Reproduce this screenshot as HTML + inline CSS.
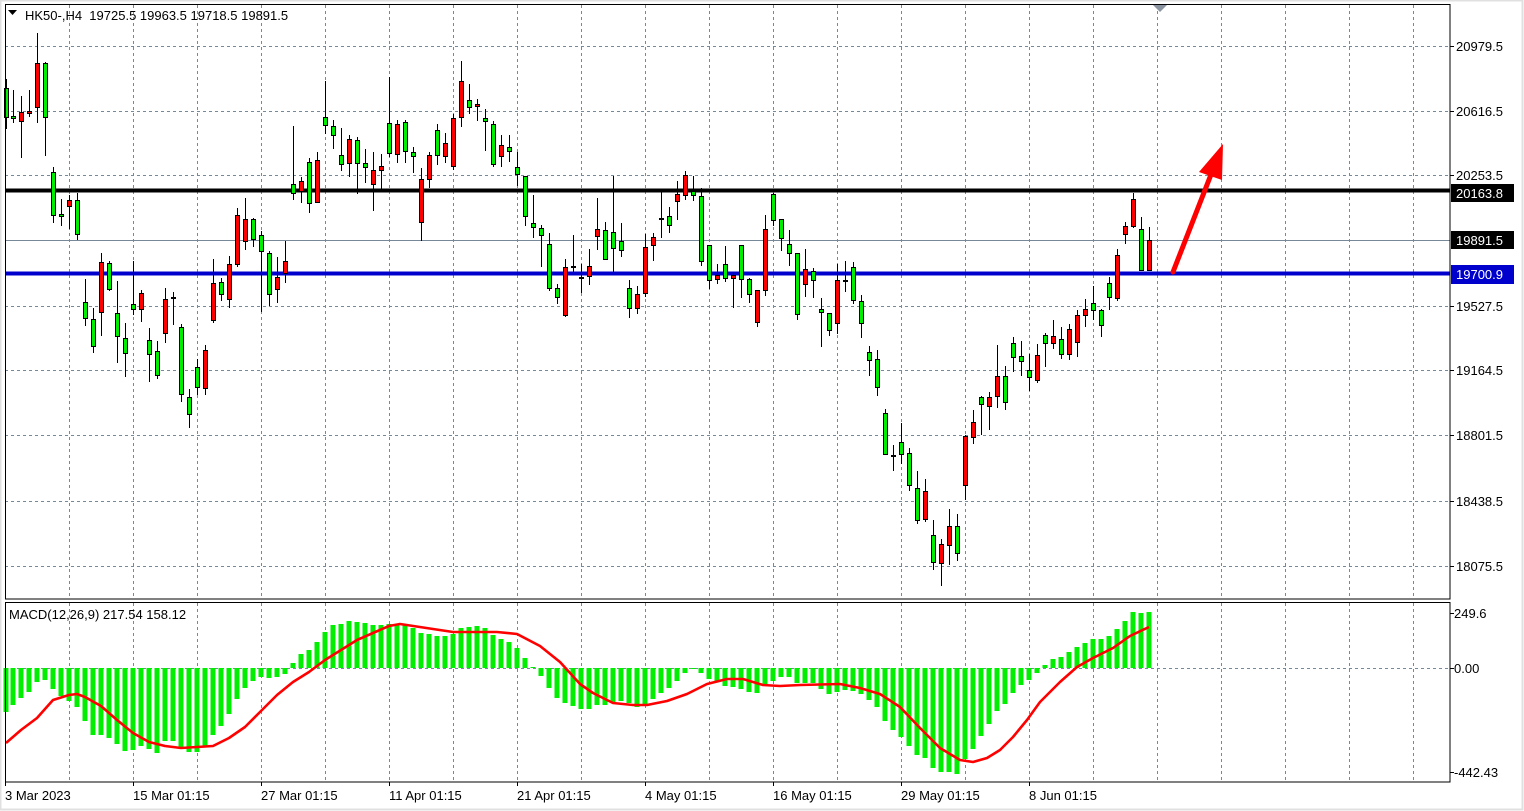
<!DOCTYPE html>
<html><head><meta charset="utf-8"><style>
html,body{margin:0;padding:0;background:#fff;}
svg{display:block;font-family:"Liberation Sans",sans-serif;}
</style></head><body>
<svg id="c" width="1524" height="811" viewBox="0 0 1524 811" xmlns="http://www.w3.org/2000/svg">
<rect x="0" y="0" width="1524" height="811" fill="#fff"/>
<rect x="0.5" y="0.5" width="1522" height="809" fill="none" stroke="#e0e0e0" stroke-width="2"/>
<g id="grid" stroke="#778899" stroke-width="1" stroke-dasharray="3,3"></g>
<line x1="5" y1="240.5" x2="1450" y2="240.5" stroke="#778899" stroke-width="1"/>
<line x1="5" y1="668.5" x2="1450" y2="668.5" stroke="#778899" stroke-width="1" stroke-dasharray="3,3"/>
<g id="hist" fill="#00ee00"></g>
<polyline id="sig" fill="none" stroke="#ff0000" stroke-width="2.6" stroke-linejoin="round"/>
<line x1="5" y1="190.5" x2="1450" y2="190.5" stroke="#000" stroke-width="4"/>
<line x1="5" y1="273.5" x2="1450" y2="273.5" stroke="#0000cc" stroke-width="4"/>
<g id="cand"></g>
<rect x="5.5" y="4.5" width="1444.5" height="594.5" fill="none" stroke="#000" stroke-width="1"/>
<rect x="5.5" y="602.5" width="1444.5" height="179.5" fill="none" stroke="#000" stroke-width="1"/>
<polygon points="1153,5 1167,5 1160,12" fill="#8a94a0"/>
<line x1="1173" y1="272" x2="1212" y2="172" stroke="#ff0000" stroke-width="5" stroke-linecap="round"/>
<polygon points="1223,144 1199,172 1222,180" fill="#ff0000"/>
<polygon points="8,10 17,10 12.5,15" fill="#000"/>
<text x="25" y="20" font-size="13" fill="#000">HK50-,H4&#160; 19725.5 19963.5 19718.5 19891.5</text>
<text x="9" y="619" font-size="13" fill="#000">MACD(12,26,9) 217.54 158.12</text>
<g font-size="13" fill="#000" id="pax"></g>
<rect x="1451" y="184" width="63" height="18" fill="#000"/>
<text x="1456" y="198" font-size="13" fill="#fff">20163.8</text>
<rect x="1451" y="231" width="63" height="18" fill="#000"/>
<text x="1456" y="245" font-size="13" fill="#fff">19891.5</text>
<rect x="1451" y="265" width="63" height="19" fill="#0000cc"/>
<text x="1456" y="279" font-size="13" fill="#fff">19700.9</text>
<g font-size="13" fill="#000">
<text x="1454" y="618">249.6</text>
<text x="1454" y="673">0.00</text>
<text x="1454" y="777">-442.43</text>
<text x="5" y="800">3 Mar 2023</text>
<text x="133" y="800">15 Mar 01:15</text>
<text x="261" y="800">27 Mar 01:15</text>
<text x="389" y="800">11 Apr 01:15</text>
<text x="517" y="800">21 Apr 01:15</text>
<text x="645" y="800">4 May 01:15</text>
<text x="773" y="800">16 May 01:15</text>
<text x="901" y="800">29 May 01:15</text>
<text x="1029" y="800">8 Jun 01:15</text>
</g>
<g stroke="#000" stroke-width="1" id="ticks"></g>
</svg>
<script>
var NS="http://www.w3.org/2000/svg";
function el(p,t,a){var e=document.createElementNS(NS,t);for(var k in a)e.setAttribute(k,a[k]);p.appendChild(e);return e;}
var C=[[6,79,88,117,129,'g'],[13,90,116,118,123,'g'],[21,96,112,121,158,'r'],[29,90,111,113,117,'r'],[37,33,63,107,123,'r'],[45,62,63,117,156,'g'],[53,167,172,215,223,'g'],[61,199,214,216,226,'g'],[69,195,200,206,229,'r'],[77,193,200,234,240,'g'],[85,279,302,318,326,'g'],[93,308,319,346,353,'g'],[101,253,262,312,336,'r'],[109,261,263,289,291,'g'],[117,281,313,336,363,'g'],[125,323,338,353,377,'g'],[133,261,304,309,315,'g'],[141,290,293,309,322,'r'],[149,328,340,354,382,'g'],[157,341,351,375,379,'g'],[165,288,299,333,343,'r'],[173,292,297,298,325,'g'],[181,324,327,394,402,'g'],[189,389,397,414,428,'g'],[197,359,367,387,395,'g'],[205,345,350,388,395,'r'],[213,259,283,320,323,'r'],[221,278,282,294,301,'g'],[229,256,264,299,308,'r'],[237,208,215,264,267,'r'],[245,198,219,241,250,'r'],[253,218,219,239,247,'g'],[261,231,235,251,312,'g'],[269,251,253,294,306,'g'],[277,257,277,289,303,'r'],[285,241,261,273,283,'r'],[293,126,184,193,200,'g'],[301,177,181,191,203,'r'],[309,158,162,203,213,'g'],[317,152,160,202,202,'r'],[325,81,117,125,134,'g'],[333,120,126,135,149,'g'],[341,128,155,164,171,'g'],[349,135,139,163,177,'r'],[357,137,140,163,194,'g'],[365,149,163,167,183,'g'],[373,152,170,184,211,'r'],[381,154,166,170,190,'r'],[389,77,123,153,157,'g'],[397,120,124,154,163,'r'],[405,120,122,151,163,'g'],[413,147,152,156,173,'g'],[421,168,179,222,241,'r'],[429,152,155,179,188,'r'],[437,124,130,155,165,'g'],[445,133,143,156,163,'r'],[453,114,118,166,170,'r'],[461,61,81,117,127,'r'],[469,84,100,107,114,'g'],[477,99,104,106,121,'r'],[485,109,118,121,151,'g'],[493,121,124,164,167,'g'],[501,135,145,156,167,'r'],[509,135,147,151,162,'g'],[517,152,167,174,186,'g'],[525,176,176,216,226,'g'],[533,195,223,227,238,'g'],[541,225,228,235,267,'g'],[549,233,244,288,291,'g'],[557,284,288,297,304,'g'],[565,259,267,315,317,'r'],[573,235,266,267,272,'g'],[581,264,277,278,293,'g'],[589,249,266,276,285,'r'],[597,198,229,236,250,'r'],[605,222,230,259,259,'g'],[613,176,232,248,272,'g'],[621,223,241,250,257,'g'],[629,280,288,308,318,'g'],[637,286,294,308,314,'r'],[645,234,247,293,297,'r'],[653,233,237,245,261,'r'],[661,192,218,219,238,'g'],[669,207,216,225,233,'g'],[677,181,194,201,220,'r'],[685,171,175,195,200,'r'],[693,176,191,195,201,'g'],[701,188,196,261,266,'g'],[709,245,245,280,289,'g'],[717,264,275,279,284,'r'],[725,246,264,278,282,'g'],[733,273,275,278,308,'r'],[741,245,245,279,298,'g'],[749,278,279,294,303,'g'],[757,290,290,322,327,'r'],[765,215,229,290,296,'r'],[773,193,194,220,226,'g'],[781,219,219,238,251,'g'],[789,230,244,253,266,'g'],[797,253,253,314,320,'g'],[805,249,269,284,297,'r'],[813,268,271,280,298,'g'],[821,298,309,312,347,'g'],[829,313,313,330,336,'g'],[837,264,280,323,334,'r'],[845,261,280,281,292,'g'],[853,262,267,300,304,'g'],[861,295,301,323,338,'g'],[869,346,352,360,376,'g'],[877,350,359,387,396,'g'],[885,409,413,454,455,'g'],[893,445,455,456,471,'g'],[901,423,442,454,464,'g'],[909,448,453,485,491,'g'],[917,471,488,520,524,'g'],[925,479,491,519,522,'r'],[933,520,535,562,570,'g'],[941,539,544,563,586,'r'],[949,509,526,545,565,'r'],[957,514,526,553,561,'g'],[965,435,436,485,500,'r'],[973,410,422,437,444,'r'],[981,396,397,404,435,'g'],[989,392,397,406,430,'r'],[997,345,376,396,408,'r'],[1005,366,376,402,410,'g'],[1013,337,343,357,372,'g'],[1021,341,356,361,376,'g'],[1029,354,370,377,391,'g'],[1037,344,355,380,383,'r'],[1045,333,335,343,367,'g'],[1053,320,336,343,349,'r'],[1061,327,339,354,359,'g'],[1069,324,329,354,360,'r'],[1077,310,315,342,357,'r'],[1085,299,309,315,327,'r'],[1093,286,303,310,320,'g'],[1101,309,310,325,337,'g'],[1109,277,283,297,310,'g'],[1117,249,255,298,301,'r'],[1125,222,226,234,244,'r'],[1133,193,199,226,228,'r'],[1141,217,229,270,271,'g'],[1149,227,240,270,271,'r']];
var H=[712,705,698,692,682,680,689,696,701,707,721,735,735,738,744,751,750,746,749,753,741,741,747,752,752,746,735,726,714,699,688,681,677,678,677,674,663,654,650,642,632,625,624,621,622,623,625,625,624,624,
625,628,633,634,636,636,634,628,627,626,628,635,639,642,648,658,667,676,688,698,703,706,709,709,705,705,702,701,703,707,704,699,693,688,681,673,669,673,679,681,686,687,689,692,693,684,681,
677,677,683,683,683,689,694,692,690,691,694,700,707,721,730,737,746,755,758,768,772,772,774,759,749,736,724,711,704,693,685,680,673,665,659,657,652,647,643,639,639,636,629,621,612,613,612];
var S=[[6,743],[21,730],[37,718],[53,700],[69,695],[77,694],[85,697],[101,706],[117,720],[133,733],[149,742],[165,746],[181,748],[197,747],[213,746],[229,738],[245,727],[261,711],[277,695],[293,682],[309,672],[325,660],[341,650],[357,640],[373,633],[389,626],[400,624],[433,629],[453,632],[497,632],[517,634],[540,646],[560,662],[580,684],[593,693],[613,703],[633,705],[647,705],[667,701],[687,694],[707,684],[727,679],[743,679],[763,685],[780,686],[800,685],[840,684],[860,688],[880,694],[900,707],[920,728],[940,748],[960,760],[973,762],[987,758],[1000,750],[1013,737],[1027,720],[1040,702],[1060,682],[1077,667],[1093,658],[1113,648],[1130,636],[1149,627]];
var g=document.getElementById('grid');
[46,111,175,306,370,435,501,566].forEach(function(y){el(g,'line',{x1:5,y1:y+.5,x2:1450,y2:y+.5});});
for(var x=69;x<1450;x+=64){el(g,'line',{x1:x+.5,y1:5,x2:x+.5,y2:599});el(g,'line',{x1:x+.5,y1:603,x2:x+.5,y2:782});}
var pa=document.getElementById('pax'),tk=document.getElementById('ticks');
[[46,'20979.5'],[111,'20616.5'],[175,'20253.5'],[306,'19527.5'],[370,'19164.5'],[435,'18801.5'],[501,'18438.5'],[566,'18075.5']].forEach(function(p){var t=el(pa,'text',{x:1456,y:p[0]+5});t.textContent=p[1];el(tk,'line',{x1:1450,y1:p[0]+.5,x2:1454,y2:p[0]+.5});});
[613,668,772].forEach(function(y){el(tk,'line',{x1:1450,y1:y+.5,x2:1454,y2:y+.5});});
[5,133,261,389,517,645,773,901,1029].forEach(function(x){el(tk,'line',{x1:x+.5,y1:782,x2:x+.5,y2:786});});
var h=document.getElementById('hist');
for(var i=0;i<C.length&&i<H.length;i++){var cx=C[i][0],v=H[i];var y0=Math.min(v,668),y1=Math.max(v,668);if(y1-y0<1)y1=y0+1;el(h,'rect',{x:cx-2.5,y:y0,width:5,height:y1-y0});}
document.getElementById('sig').setAttribute('points',S.map(function(p){return p.join(',')}).join(' '));
var cg=document.getElementById('cand');
C.forEach(function(c){var x=c[0];el(cg,'line',{x1:x+.5,y1:c[1],x2:x+.5,y2:c[4],stroke:'#000','stroke-width':1});
var bh=c[3]-c[2];if(bh<1){el(cg,'line',{x1:x-2,y1:c[2]+.5,x2:x+3,y2:c[2]+.5,stroke:'#000','stroke-width':1.5});}
else el(cg,'rect',{x:x-1.5,y:c[2]+.5,width:4,height:bh,fill:c[5]=='g'?'#00ee00':'#ff0000',stroke:'#000','stroke-width':1});});
</script>
</body></html>
